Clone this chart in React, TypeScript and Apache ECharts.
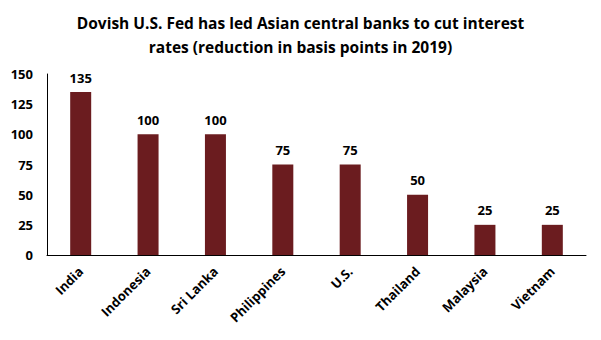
import React, { useEffect, useRef } from "react";
import * as echarts from "echarts";

const categories = ["India", "Indonesia", "Sri Lanka", "Philippines", "U.S.", "Thailand", "Malaysia", "Vietnam"];
const cuts = [135, 100, 100, 75, 75, 50, 25, 25];
const titleText = "Dovish U.S. Fed has led Asian central banks to cut interest\nrates (reduction in basis points in 2019)";

const FONT = "'Open Sans', 'Liberation Sans', sans-serif";

export default function App() {
  const ref = useRef<HTMLDivElement>(null);
  useEffect(() => {
    const chart = echarts.init(ref.current!, null, { renderer: "svg" });
    chart.setOption({
      animation: false,
      backgroundColor: "#ffffff",
      title: {
        text: titleText,
        left: "center",
        top: 6,
        textStyle: { fontFamily: FONT, fontWeight: "bold", fontSize: 15.5, lineHeight: 24, color: "#000" },
      },
      grid: { left: 47, right: 15, top: 74, bottom: 85, containLabel: false },
      xAxis: {
        type: "category",
        data: categories,
        axisLine: { lineStyle: { color: "#000", width: 1 } },
        axisTick: { show: false },
        axisLabel: { rotate: 45, fontFamily: FONT, fontWeight: "bold", fontSize: 13, color: "#000", margin: 14, interval: 0 },
      },
      yAxis: {
        type: "value",
        min: 0,
        max: 150,
        interval: 25,
        axisLine: { show: true, lineStyle: { color: "#000", width: 1 } },
        axisTick: { show: false },
        splitLine: { show: false },
        axisLabel: { fontFamily: FONT, fontWeight: "bold", fontSize: 13, color: "#000", margin: 14 },
      },
      series: [
        {
          type: "bar",
          data: cuts,
          barWidth: 21,
          itemStyle: { color: "#6B1C1F" },
          label: { show: true, position: "top", distance: 8, fontFamily: FONT, fontWeight: "bold", fontSize: 13, color: "#000" },
        },
      ],
    });
    return () => chart.dispose();
  }, []);
  return <div ref={ref} style={{ width: 601, height: 340, position: "absolute", left: 0, top: 0 }} />;
}
